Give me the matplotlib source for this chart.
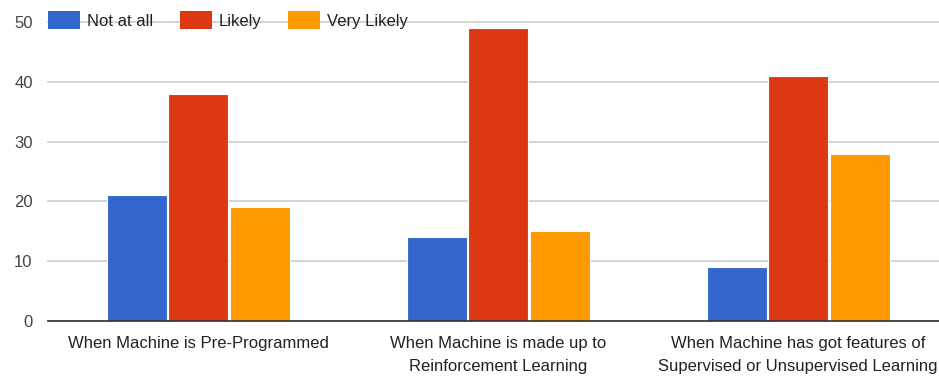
import matplotlib
matplotlib.use("Agg")
import matplotlib.pyplot as plt
import numpy as np

categories = [
    "When Machine is Pre-Programmed",
    "When Machine is made up to\nReinforcement Learning",
    "When Machine has got features of\nSupervised or Unsupervised Learning",
]
series_names = ["Not at all", "Likely", "Very Likely"]
not_at_all = [21, 14, 9]
likely = [38, 49, 41]
very_likely = [19, 15, 28]
y_ticks = [0, 10, 20, 30, 40, 50]

colors = ["#3366cc", "#dc3912", "#ff9900"]

plt.rcParams["font.family"] = ["Liberation Sans", "DejaVu Sans"]
plt.rcParams["font.size"] = 12

W, H = 939, 383
fig = plt.figure(figsize=(W / 100, H / 100), dpi=100)
# plot area: left edge at 48 px, baseline at 321 px, top gridline at 22 px
ax = fig.add_axes([48 / W, 62 / H, 900 / W, 299 / H])

x = np.arange(len(categories))
width = 0.2
offsets = [-0.205, 0.0, 0.205]
for vals, name, c, off in zip([not_at_all, likely, very_likely], series_names, colors, offsets):
    ax.bar(x + off, vals, width, color=c, edgecolor="white", linewidth=0.8,
           label=name, zorder=3)

ax.set_xlim(-0.5, 2.5)
ax.set_ylim(0, 50)
ax.set_yticks(y_ticks)
ax.set_xticks(x)
ax.set_xticklabels(categories, linespacing=1.65)
for s in ["top", "right", "left"]:
    ax.spines[s].set_visible(False)
ax.spines["bottom"].set_color("#333333")
ax.spines["bottom"].set_linewidth(1.2)
ax.spines["bottom"].set_zorder(4)
ax.tick_params(axis="y", length=0, pad=11, labelcolor="#444444", labelsize=12)
ax.tick_params(axis="x", length=0, pad=11, labelcolor="#222222", labelsize=12)
ax.yaxis.grid(True, color="#cccccc", linewidth=1.2, zorder=0)
for gl in ax.get_ygridlines():
    gl.set_clip_on(False)
ax.set_axisbelow(True)

leg = ax.legend(loc="center left", bbox_to_anchor=(0.0, 1 + 2 / 299), ncol=3,
                frameon=False, borderpad=0, borderaxespad=0,
                handlelength=1.92, handleheight=1.25, handletextpad=0.42,
                columnspacing=1.6, fontsize=12)
for t in leg.get_texts():
    t.set_color("#222222")
for h in leg.legend_handles:
    h.set_edgecolor("none")

fig.savefig("out.png", dpi=100)
